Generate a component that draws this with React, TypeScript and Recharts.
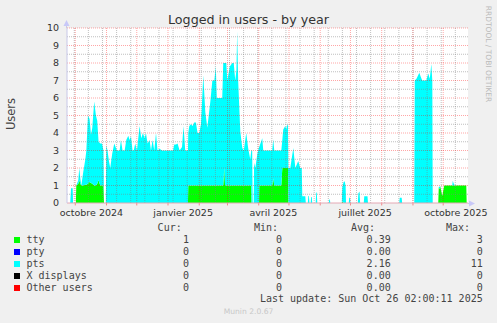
import React from 'react';
import { AreaChart, Area, XAxis, YAxis, ReferenceLine, CartesianGrid } from 'recharts';

// x = days since 1 Oct 2024
const days = [
  -5, -4.2, -2.6, -2.2, 0.6, 1, 3, 4, 5, 6, 8, 10, 11, 12.6, 14.2, 15.6, 16.9, 18.8, 20.5, 21.8,
  23.1, 24.8, 26.5, 28, 28.5, 30.3, 30.8, 32, 33.4, 34.7, 36.7, 38.7, 40, 41.4, 44, 45.3, 46.9, 49,
  50.6, 52.6, 53.9, 55.3, 56.8, 58, 59.5, 61.2, 63.8, 65.5, 67.1, 68.8, 70.1, 71.7, 73.7, 75.1, 76.7,
  78.4, 80.1, 81.6, 83.6, 86, 97, 98.2, 100, 101.5, 103.5, 105.9, 107.4, 109.1, 111.8, 112.1, 113.1,
  114.8, 116.4, 118, 119.7, 121.3, 123, 124.7, 127, 129, 131, 134, 136, 138, 139.4, 140.4, 145.8,
  146.8, 147.4, 147.8, 148.6, 149.8, 150.8, 153.3, 155.8, 157.2, 158.7, 159.9, 160.6, 161.6, 163.7,
  165.7, 167.2, 169.6, 171.6, 173.6, 174.6, 174.9, 175.5, 176, 177, 177.4, 178.6, 180.6, 182.3,
  182.5, 185.5, 186.5, 195.4, 196.4, 197.4, 204.4, 205.4, 206.3, 208.3, 209.3, 210.3, 211, 211.5,
  213.3, 216.3, 218.3, 221.2, 223.2, 224.7, 225.2, 228.2, 228.7, 230.7, 231.2, 231.8, 232.3, 233.5,
  234, 234.6, 235.1, 238.5, 239, 239.6, 240.1, 251.5, 252, 252.6, 253, 264.4, 264.9, 266.2, 267.2,
  268.2, 268.6, 271.3, 271.8, 272.6, 273, 280.3, 280.8, 282, 282.6, 286.2, 286.7, 289.9, 290.4,
  321.4, 321.9, 323.8, 324.3, 336.3, 336.8, 338.5, 341.3, 342.8, 344.2, 348.2, 350.2, 351.7, 353.2,
  354.2, 354.6, 360.1, 360.6, 361.5, 362.1, 364.1, 366, 374, 374.5, 375.5, 376.5, 387.9, 388.3,
];

const ttyUsers = [
  0, 0, 0, 0, 0, 1, 1.1, 1.3, 1.1, 1, 1, 1.05, 1.05, 1.1, 1.2, 1.15, 1.1, 1, 1, 1.1,
  1.3, 1, 1, 1, 0, 0, 0, 0, 0, 0, 0, 0, 0, 0, 0, 0, 0, 0,
  0, 0, 0, 0, 0, 0, 0, 0, 0, 0, 0, 0, 0, 0, 0, 0, 0,
  0, 0, 0, 0, 0, 0, 0, 0, 0, 0, 0, 0, 0, 0, 1, 1,
  1, 1, 1, 1, 1, 1, 1, 1, 1, 1, 1, 1, 1, 1, 1, 1,
  1, 1.6, 2, 1, 1, 1, 1, 1, 1, 1, 1, 1, 1, 1,
  1, 1, 1, 1, 1, 1, 0, 0, 0, 0, 0, 0, 0, 0,
  1, 1, 1, 1, 1.4, 1, 1, 2, 2, 2, 2, 2, 2, 0,
  0, 0, 0, 0, 0, 0, 0, 0, 0, 0, 0, 0, 0, 0,
  0, 0, 0, 0, 0, 0, 0, 0, 0, 0, 0, 0, 0.1, 0, 0,
  0, 0, 0, 0, 0, 0, 0, 0, 0, 0, 0, 0, 0, 0,
  0, 0, 0, 0, 0, 0, 0, 0, 0, 0, 0, 0, 0, 0,
  0, 0, 0, 0.9, 0.8, 0.95, 0.4, 1, 1, 1, 1, 1, 1, 0,
];

const ptsUsers = [
  0, 0.85, 0.85, 0, 0, 0, 0.2, 0.7, 0.3, 0, 0.8, 1.45, 1.95, 3.9, 3.6, 2.75, 3.2, 4.8, 4, 3.6,
  2.2, 2.4, 2.4, 2, 0, 0, 3.3, 3, 2.4, 2, 2.85, 3.4, 3.2, 3, 3, 3.6, 3, 3,
  3.6, 3.85, 3.6, 3.8, 3, 3, 3.4, 3, 4.4, 3.7, 4, 3.7, 4, 3.4, 3.6, 3, 3.6,
  3, 4, 3, 3.1, 3, 3, 3.35, 3.35, 3.4, 3, 3.2, 4.4, 3, 3, 3, 3.4,
  3.5, 3.4, 3.6, 3.6, 3, 3, 3.5, 6.3, 4.2, 3.3, 4.8, 6, 6, 6.8, 5, 5,
  7, 6.4, 6, 7, 7, 6, 6.8, 7, 7, 6, 6.6, 8.8, 6, 3.1,
  2.15, 2, 3, 2.1, 1.5, 2, 3, 3, 0, 0, 2.3, 2, 2.8, 3.2,
  2.2, 2.7, 2, 2, 2.25, 2, 2, 1.6, 2.2, 2.4, 2.2, 2.5, 2.4, 2,
  2, 3.15, 2, 2.4, 2, 2, 0.38, 0.38, 0, 0, 0.4, 0.4, 0, 0,
  0.35, 0.35, 0, 0, 0.6, 0.6, 0, 0, 0.2, 0.2, 0, 0, 0.8, 1.2, 1.25,
  1, 0, 0, 0.3, 0.3, 0, 0, 0.55, 0.66, 0, 0, 0.38, 0.38, 0,
  0, 0.3, 0.3, 0, 0, 7, 7.1, 7.45, 7.2, 7, 7, 7.4, 7.1, 7.95,
  7, 0, 0, 0, 0.15, 0, 0, 0, 0, 0.27, 0.1, 0, 0, 0,
];

const monthStarts = [0, 31, 61, 92, 123, 151, 182, 212, 243, 273, 304, 335, 365];
const weekLines = [
  -1, 13, 27, 41, 55, 69, 83, 97, 111, 125, 139, 153, 167, 181, 195, 209, 223, 237, 251, 265,
  279, 293, 307, 321, 335, 349, 363, 377,
];
const labelDays = [16, 107, 196.5, 287.5, 377.5];
const labelNames = ['octobre 2024', 'janvier 2025', 'avril 2025', 'juillet 2025', 'octobre 2025'];
const yTicks = [0, 1, 2, 3, 4, 5, 6, 7, 8, 9, 10];
const yMinor = [0.5, 1.5, 2.5, 3.5, 4.5, 5.5, 6.5, 7.5, 8.5, 9.5];

const seriesNames = ['tty', 'pty', 'pts', 'X displays', 'Other users'];
const seriesColors = ['#00FF00', '#0000FF', '#00FFFF', '#000000', '#FF0000'];
const curValues = ['1', '0', '0', '0', '0'];
const minValues = ['0', '0', '0', '0', '0'];
const avgValues = ['0.39', '0.00', '2.16', '0.00', '0.00'];
const maxValues = ['3', '0', '11', '0', '0'];

const rows = days.map((d, i) => ({ d, tty: ttyUsers[i], pts: ptsUsers[i] }));

const mono = '"DejaVu Sans Mono", monospace';
const sans = '"DejaVu Sans", sans-serif';

const Txt: React.FC<{ x: number; y: number; right?: boolean; children: React.ReactNode }> = ({ x, y, right, children }) => (
  <div
    style={{
      position: 'absolute',
      top: y - 6,
      lineHeight: '12px',
      whiteSpace: 'pre',
      fontFamily: mono,
      fontSize: 10,
      color: '#444',
      ...(right ? { right: 497 - x } : { left: x }),
    }}
  >
    {children}
  </div>
);

const App: React.FC = () => {
  const rowY = [240, 251.8, 263.6, 275.6, 287.6];
  return (
    <div style={{ position: 'relative', width: 497, height: 323, background: '#F0F0F0', overflow: 'hidden' }}>
      <style>{'body{margin:0}'}</style>
      <AreaChart width={497} height={323} data={rows} margin={{ top: 28, right: 29, bottom: 100, left: 27 }}>
        <CartesianGrid fill="#FFFFFF" horizontal={false} vertical={false} />
        <XAxis
          dataKey="d"
          type="number"
          domain={[-8.2, 389.6]}
          allowDataOverflow
          ticks={labelDays}
          tickFormatter={(v: number) => labelNames[labelDays.indexOf(v)] ?? ''}
          tickLine={false}
          tickSize={4}
          tickMargin={2}
          axisLine={{ stroke: '#E4A8B4' }}
          height={20}
          interval={0}
          tick={{ fontSize: 9.5, fill: '#333', fontFamily: sans }}
        />
        <YAxis
          type="number"
          domain={[0, 10]}
          ticks={yTicks}
          allowDataOverflow
          interval={0}
          tickLine={false}
          axisLine={{ stroke: '#C8C8E8' }}
          width={40}
          tick={{ fontSize: 9.5, fill: '#333', fontFamily: sans }}
        />
        <Area
          type="linear"
          dataKey="tty"
          stackId="u"
          stroke="none"
          fill="#00FF00"
          fillOpacity={1}
          isAnimationActive={false}
          dot={false}
          activeDot={false}
        />
        <Area
          type="linear"
          dataKey="pts"
          stackId="u"
          stroke="none"
          fill="#00FFFF"
          fillOpacity={1}
          isAnimationActive={false}
          dot={false}
          activeDot={false}
        />
        {yMinor.map((v) => (
          <ReferenceLine key={`ym${v}`} y={v} stroke="#808080" strokeOpacity={0.5} strokeDasharray="1 1" />
        ))}
        {weekLines.map((v) => (
          <ReferenceLine key={`xm${v}`} x={v} stroke="#808080" strokeOpacity={0.5} strokeDasharray="1 1" />
        ))}
        {yTicks.slice(1).map((v) => (
          <ReferenceLine key={`yM${v}`} y={v} stroke="#FF0000" strokeOpacity={0.35} strokeDasharray="1 1" />
        ))}
        {monthStarts.map((v) => (
          <ReferenceLine key={`xM${v}`} x={v} stroke="#FF0000" strokeOpacity={0.35} strokeDasharray="1 1" />
        ))}
        {monthStarts.map((v) => (
          <ReferenceLine
            key={`xt${v}`}
            segment={[{ x: v, y: 0 }, { x: v, y: -0.14 }]}
            ifOverflow="visible"
            stroke="#FF0000"
            strokeOpacity={0.45}
          />
        ))}
      </AreaChart>

      <svg width={497} height={323} style={{ position: 'absolute', left: 0, top: 0, pointerEvents: 'none' }}>
        <line x1={66.5} y1={28} x2={66.5} y2={23} stroke="#C8C8E8" />
        <polygon points="63.5,26 69.5,26 66.5,20" fill="#C8C8F8" />
        <line x1={468} y1={203.5} x2={471} y2={203.5} stroke="#C8C8E8" />
        <polygon points="469,200.5 469,206.5 475,203.5" fill="#C8C8F8" />
      </svg>

      <div
        style={{
          position: 'absolute',
          left: 0,
          width: 497,
          top: 11,
          textAlign: 'center',
          fontFamily: sans,
          fontSize: 12.7,
          lineHeight: '18px',
          color: '#333',
        }}
      >
        Logged in users - by year
      </div>
      <div
        style={{
          position: 'absolute',
          left: 10.5,
          top: 114,
          transform: 'translate(-50%, -50%) rotate(-90deg)',
          fontFamily: sans,
          fontSize: 11.5,
          color: '#444',
          whiteSpace: 'nowrap',
        }}
      >
        Users
      </div>
      <div
        style={{
          position: 'absolute',
          left: 488.3,
          top: 53.5,
          transform: 'translate(-50%, -50%) rotate(90deg)',
          fontFamily: sans,
          fontSize: 7.5,
          color: '#BBBBBB',
          whiteSpace: 'nowrap',
        }}
      >
        RRDTOOL / TOBI OETIKER
      </div>

      <Txt x={181.7} y={227.7} right>Cur:</Txt>
      <Txt x={278} y={227.7} right>Min:</Txt>
      <Txt x={375} y={227.7} right>Avg:</Txt>
      <Txt x={470} y={227.7} right>Max:</Txt>
      {seriesNames.map((n, i) => (
        <React.Fragment key={n}>
          <div
            style={{
              position: 'absolute',
              left: 14,
              top: rowY[i] - 3,
              width: 6,
              height: 6,
              background: seriesColors[i],
            }}
          />
          <Txt x={26.5} y={rowY[i]}>{n}</Txt>
          <Txt x={189} y={rowY[i]} right>{curValues[i]}</Txt>
          <Txt x={282} y={rowY[i]} right>{minValues[i]}</Txt>
          <Txt x={390.7} y={rowY[i]} right>{avgValues[i]}</Txt>
          <Txt x={482.7} y={rowY[i]} right>{maxValues[i]}</Txt>
        </React.Fragment>
      ))}
      <Txt x={482.7} y={299.3} right>Last update: Sun Oct 26 02:00:11 2025</Txt>
      <div
        style={{
          position: 'absolute',
          left: 0,
          width: 497,
          top: 306,
          textAlign: 'center',
          fontFamily: sans,
          fontSize: 7.6,
          lineHeight: '12px',
          color: '#C8C8C8',
        }}
      >
        Munin 2.0.67
      </div>
    </div>
  );
};

export default App;
